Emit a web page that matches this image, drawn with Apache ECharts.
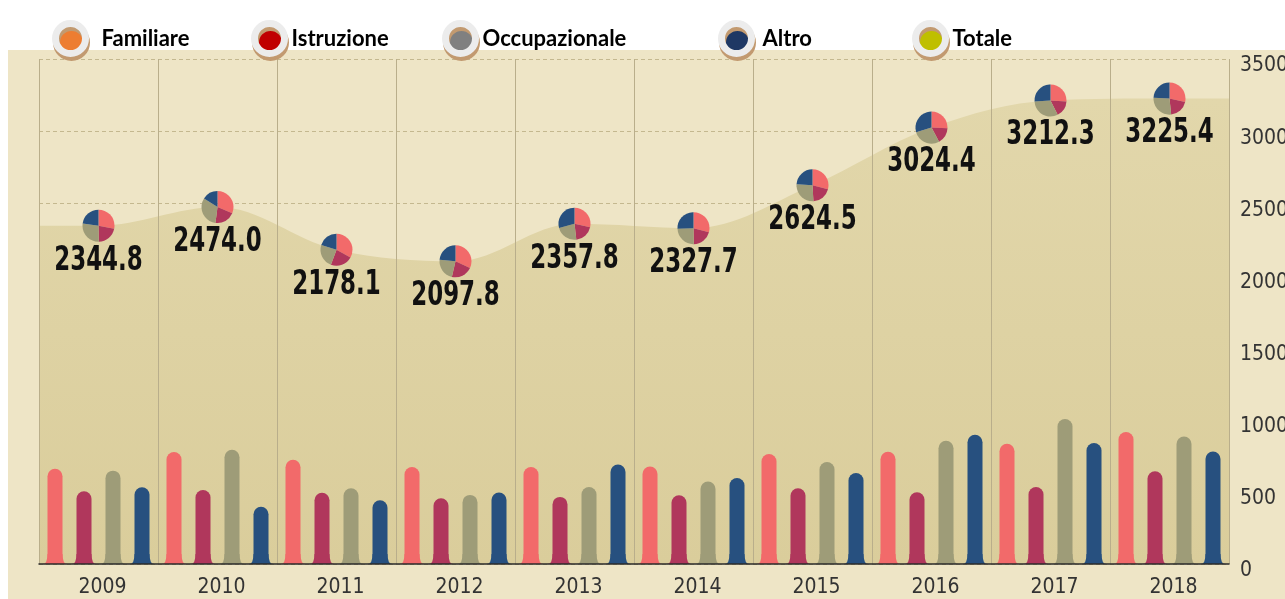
<!DOCTYPE html>
<html>
<head>
<meta charset="utf-8">
<script src="https://cdn.jsdelivr.net/npm/echarts@6/dist/echarts.min.js"></script>
<style>
    html, body { margin: 0; padding: 0; background: #fff; }
    #chart { width: 1285px; height: 599px; }
</style>
</head>
<body>
<div id="chart"></div>
<script>
const YEARS = ['2009', '2010', '2011', '2012', '2013', '2014', '2015', '2016', '2017', '2018'];
const FAMILIARE = [660, 776, 723, 672, 672, 676, 762, 778, 833, 914];
const ISTRUZIONE = [504, 513, 493, 456, 465, 476, 525, 497, 534, 642];
const OCCUPAZIONALE = [647, 792, 525, 479, 534, 571, 707, 854, 1005, 884];
const ALTRO = [532, 396, 442, 495, 690, 596, 631, 895, 838, 780];
const TOTALE = [2344.8, 2474.0, 2178.1, 2097.8, 2357.8, 2327.7, 2624.5, 3024.4, 3212.3, 3225.4];
const Y_TICKS = [0, 500, 1000, 1500, 2000, 2500, 3000, 3500];

const BAR_COLORS = ['#f26a6a', '#b0375c', '#9e9c78', '#27507f'];
const BAR_WIDTH = 15;
const BAR_GAP = 14;
const NARROW = "'DejaVu Sans Condensed', sans-serif";

let chart = echarts.init(document.getElementById('chart'));

/* Area runs flat out to the plot edges. */
let area_data = TOTALE.map(function (v, i) { return [i, v]; });
area_data.unshift([-0.5, TOTALE[0]]);
area_data.push([YEARS.length - 0.5, TOTALE[TOTALE.length - 1]]);

let pie_data = TOTALE.map(function (v, i) {
    return [i, v, FAMILIARE[i], ISTRUZIONE[i], OCCUPAZIONALE[i], ALTRO[i]];
});

function legendItem(name, color, left, pad) {
    return {
        data: [{ name: name, itemStyle: { color: color } }],
        left: left,
        top: 15,
        icon: 'circle',
        itemWidth: 34,
        itemHeight: 30,
        selectedMode: false,
        itemStyle: {
            borderColor: '#ececec',
            borderWidth: 7,
            shadowColor: '#c29a70',
            shadowOffsetY: 4,
            shadowOffsetX: 1,
            shadowBlur: 0
        },
        textStyle: {
            fontFamily: 'Lato, sans-serif',
            fontSize: 22,
            fontWeight: 'bold',
            color: '#000',
            padding: [0, 0, 0, pad]
        }
    };
}

function barSeries(name, data, color) {
    return {
        name: name,
        type: 'bar',
        data: data,
        barWidth: BAR_WIDTH,
        barGap: (BAR_GAP / BAR_WIDTH * 100) + '%',
        itemStyle: { color: color, borderRadius: [8, 8, 0, 0] },
        z: 3
    };
}

let option = {
    animation: false,
    backgroundColor: '#ffffff',
    graphic: [
        {
            type: 'rect',
            shape: { x: 8, y: 50, width: 1277, height: 549 },
            style: { fill: '#eee5c6' },
            z: -10,
            silent: true
        }
    ],
    legend: [
        legendItem('Familiare', '#ed7d31', 47, 9),
        legendItem('Istruzione', '#c00000', 246, 0),
        legendItem('Occupazionale', '#808080', 437, 0),
        legendItem('Altro', '#1f3864', 713, 4),
        legendItem('Totale', '#bfbf00', 907, 0)
    ],
    grid: {
        left: 39,
        right: 56,
        top: 59,
        bottom: 35,
        outerBoundsMode: 'none'
    },
    xAxis: [
        {
            type: 'category',
            data: YEARS,
            boundaryGap: true,
            axisLine: { show: true, lineStyle: { color: '#2b2b2b', width: 1.5 } },
            axisTick: { show: false },
            axisLabel: {
                color: '#333',
                fontFamily: NARROW,
                fontSize: 21,
                margin: 13,
                padding: [0, 0, 0, 8]
            },
            splitLine: { show: true, lineStyle: { color: '#b9ae8b', width: 1, type: 'solid' } },
            z: 4
        },
        {
            type: 'value',
            min: -0.5,
            max: YEARS.length - 0.5,
            show: false
        }
    ],
    yAxis: {
        type: 'value',
        position: 'right',
        min: Y_TICKS[0],
        max: Y_TICKS[Y_TICKS.length - 1],
        interval: 500,
        axisLine: { show: false },
        axisTick: { show: false },
        axisLabel: {
            color: '#333',
            fontFamily: NARROW,
            fontSize: 21,
            margin: 11,
            verticalAlign: 'top',
            lineHeight: 14,
            formatter: function (v) { return String(v); }
        },
        splitLine: { show: true, lineStyle: { color: '#c4b88f', type: [4, 3], width: 1 } }
    },
    series: [
        {
            name: 'Totale',
            type: 'line',
            xAxisIndex: 1,
            data: area_data,
            smooth: 0.35,
            showSymbol: false,
            silent: true,
            lineStyle: { width: 0, opacity: 0 },
            itemStyle: { color: '#bfbf00' },
            areaStyle: {
                color: new echarts.graphic.LinearGradient(0, 0, 0, 1, [
                    { offset: 0, color: '#e2d7ab' },
                    { offset: 1, color: '#dacd9b' }
                ]),
                opacity: 1
            },
            z: 1
        },
        barSeries('Familiare', FAMILIARE, BAR_COLORS[0]),
        barSeries('Istruzione', ISTRUZIONE, BAR_COLORS[1]),
        barSeries('Occupazionale', OCCUPAZIONALE, BAR_COLORS[2]),
        barSeries('Altro', ALTRO, BAR_COLORS[3]),
        {
            /* Bell-shaped foot under each bar. */
            type: 'custom',
            xAxisIndex: 0,
            data: YEARS.map(function (y, i) { return [i, 0]; }),
            encode: { x: 0, y: 1 },
            silent: true,
            z: 3,
            renderItem: function (params, api) {
                let base = api.coord([api.value(0), 0]);
                let step = BAR_WIDTH + BAR_GAP;
                let h = BAR_WIDTH / 2;
                let children = BAR_COLORS.map(function (color, k) {
                    let x = base[0] + (k - 1.5) * step;
                    let y = base[1];
                    let d = 'M' + (x - h) + ' ' + (y - 10)
                        + ' Q' + (x - h) + ' ' + y + ' ' + (x - h - 5) + ' ' + y
                        + ' L' + (x + h + 5) + ' ' + y
                        + ' Q' + (x + h) + ' ' + y + ' ' + (x + h) + ' ' + (y - 10) + ' Z';
                    return { type: 'path', shape: { pathData: d }, style: { fill: color } };
                });
                return { type: 'group', children: children };
            }
        },
        {
            /* Small pie of the four shares on every total point. */
            type: 'custom',
            xAxisIndex: 1,
            data: pie_data,
            encode: { x: 0, y: 1 },
            silent: true,
            z: 6,
            renderItem: function (params, api) {
                let c = api.coord([api.value(0), api.value(1)]);
                let parts = [api.value(2), api.value(3), api.value(4), api.value(5)];
                let sum = parts.reduce(function (a, b) { return a + b; }, 0);
                let angle = -Math.PI / 2;
                let children = parts.map(function (v, k) {
                    let end = angle + v / sum * Math.PI * 2;
                    let s = {
                        type: 'sector',
                        shape: { cx: c[0], cy: c[1], r0: 0, r: 16, startAngle: angle, endAngle: end, clockwise: true },
                        style: { fill: BAR_COLORS[k], stroke: null }
                    };
                    angle = end;
                    return s;
                });
                children.push({
                    type: 'text',
                    x: c[0],
                    y: c[1] + 35,
                    scaleX: 0.75,
                    style: {
                        text: api.value(1).toFixed(1),
                        fill: '#111',
                        font: 'bold 34px ' + NARROW,
                        align: 'center',
                        verticalAlign: 'middle'
                    }
                });
                return { type: 'group', children: children };
            }
        }
    ]
};

chart.setOption(option);

window.addEventListener('resize', function () {
    chart.resize();
});
</script>
</body>
</html>
